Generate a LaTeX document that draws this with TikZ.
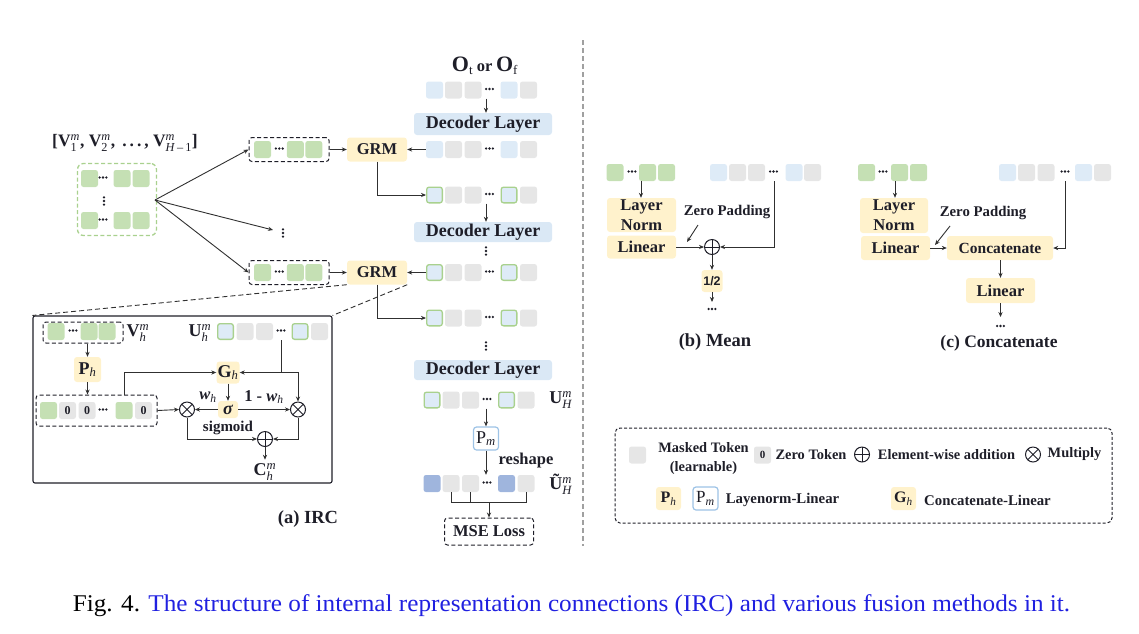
\documentclass[tikz,border=0pt]{standalone}
\usepackage{fontspec}
\usepackage{amsmath}
\setmainfont{Liberation Serif}
\newfontfamily\sansf{Liberation Sans}
\usetikzlibrary{arrows.meta}
\definecolor{tgreen}{HTML}{C5E0B4}
\definecolor{tgreenb}{HTML}{A9D18E}
\definecolor{tblue}{HTML}{DEEBF7}
\definecolor{tgray}{HTML}{E6E6E6}
\definecolor{tdark}{HTML}{9FB5DD}
\definecolor{decb}{HTML}{DAE8F5}
\definecolor{yel}{HTML}{FFF2CC}
\definecolor{pmb}{HTML}{9DC3E6}
\definecolor{txt}{HTML}{1E1E28}
\definecolor{lnc}{HTML}{303030}
\definecolor{capblue}{HTML}{2020E0}
\definecolor{sepc}{HTML}{A0A0A0}
\newcommand{\fsz}[1]{\fontsize{#1}{#1}\selectfont}
\newcommand{\sps}[2]{\ensuremath{^{\textit{\mdseries #1}}_{\text{\mdseries #2}}}}
\newcommand{\hdt}[2]{\fill[txt] ({#1-3.4},{#2}) circle (1.3pt) ({#1},{#2}) circle (1.3pt) ({#1+3.4},{#2}) circle (1.3pt);}
\newcommand{\vdt}[2]{\fill[txt] ({#1},{#2-3.6}) circle (1.3pt) ({#1},{#2}) circle (1.3pt) ({#1},{#2+3.6}) circle (1.3pt);}
\newcommand{\crow}[4]{%
  \node[#3] (#4a) at ({434.5+#2},#1) {};
  \node[xt] (#4b) at ({453.5+#2},#1) {};
  \node[xt] (#4c) at ({473+#2},#1) {};
  \hdt{489.5+#2}{#1-1}
  \node[#3] (#4d) at ({509+#2},#1) {};
  \node[xt] (#4e) at ({528.5+#2},#1) {};}
\begin{document}
\begin{tikzpicture}[x=1pt,y=-1pt,
  every node/.append style={text=txt},
  ln/.style={draw=lnc, line width=0.9pt},
  arr/.style={ln, -{Stealth[length=5pt,width=4.2pt]}},
  tok/.style={rectangle, rounded corners=2.5pt, minimum width=17pt, minimum height=17pt, inner sep=0pt},
  gt/.style={tok, fill=tgreen},
  bt/.style={tok, fill=tblue},
  xt/.style={tok, fill=tgray},
  dt/.style={tok, fill=tdark},
  bgt/.style={tok, fill=tblue, draw=tgreenb, line width=1.3pt, minimum width=15.7pt, minimum height=15.7pt},
  ybox/.style={fill=yel, rounded corners=3pt, inner sep=0pt},
  dbox/.style={draw=txt, dash pattern=on 4pt off 2.5pt, line width=1pt, rounded corners=3pt, inner sep=0pt},
  decbox/.style={fill=decb, rounded corners=3pt, inner sep=0pt, minimum width=138pt, font=\fsz{18}\bfseries},
  bft/.style={font=\fsz{16.5}\bfseries},
  oplus/.style={circle, draw=txt, line width=1pt, minimum size=15pt, inner sep=0pt,
    path picture={\draw[txt, line width=1pt] (path picture bounding box.north) -- (path picture bounding box.south) (path picture bounding box.west) -- (path picture bounding box.east);}},
  otimes/.style={circle, draw=txt, line width=1pt, minimum size=15pt, inner sep=0pt,
    path picture={\draw[txt, line width=1pt] (path picture bounding box.north west) -- (path picture bounding box.south east) (path picture bounding box.south west) -- (path picture bounding box.north east);}},
  pmbox/.style={fill=white, draw=pmb, line width=1.2pt, rounded corners=3pt, inner sep=0pt, minimum width=25pt, minimum height=23pt, font=\fsz{18}}
]
\useasboundingbox (0,0) rectangle (1139,633);

% ---------- top-left: list of V ----------
\node[font=\fsz{17.5}\bfseries] (vlist) at (125,143) {[V\sps{m}{1}, V\sps{m}{2}, \,.\,.\,.\,, V\sps{m}{\textit{H}\,\textendash\,1}]};
\node[draw=tgreenb, dash pattern=on 4pt off 2.5pt, line width=1.3pt, rounded corners=6pt, minimum width=79pt, minimum height=72pt, inner sep=0pt] (vbox) at (117,199.5) {};
\node[gt] (va1) at (89.5,178.5) {}; \hdt{103}{177.5}
\node[gt] (va2) at (122,178.5) {}; \node[gt] (va3) at (141,178.5) {};
\vdt{104}{201}
\node[gt] (vb1) at (89.5,220.5) {}; \hdt{103}{219.5}
\node[gt] (vb2) at (122,220.5) {}; \node[gt] (vb3) at (141,220.5) {};

% dashed V boxes and GRMs
\node[dbox, minimum width=80pt, minimum height=24pt] (k1) at (289,149.5) {};
\node[gt] (k1a) at (262.5,149.5) {}; \hdt{279.3}{148.5}
\node[gt] (k1b) at (295.3,149.5) {}; \node[gt] (k1c) at (313.8,149.5) {};
\node[dbox, minimum width=80pt, minimum height=24pt] (k2) at (289,272.5) {};
\node[gt] (k2a) at (262.5,272.5) {}; \hdt{279.3}{271.5}
\node[gt] (k2b) at (295.3,272.5) {}; \node[gt] (k2c) at (313.8,272.5) {};
\node[ybox, minimum width=60pt, minimum height=24pt, font=\fsz{16.5}\bfseries] (grm1) at (377,149.5) {GRM};
\node[ybox, minimum width=60pt, minimum height=24pt, font=\fsz{16.5}\bfseries] (grm2) at (377,272.5) {GRM};

\coordinate (fan) at (155,200);
\coordinate (fdots) at (273,230);
\draw[arr] (fan) -- (k1.west);
\draw[arr] (fan) -- (fdots);
\draw[arr] (fan) -- (k2.west);
\vdt{283}{233}
\draw[arr] (k1.east) -- (grm1.west);
\draw[arr] (k2.east) -- (grm2.west);

% ---------- center column ----------
\node[font=\fsz{22}\bfseries] (ootf) at (485,66) {O$_{\text{\mdseries\fsz{13}t}}$\,{\fsz{16.5}or}\,O$_{\text{\mdseries\fsz{13}f}}$};
\crow{90}{0}{bt}{r1}
\node[decbox, minimum height=22pt] (dec1) at (483,124) {Decoder Layer};
\crow{149.5}{0}{bt}{r2}
\crow{195}{0}{bgt}{r3}
\node[decbox, minimum height=20pt] (dec2) at (483,232) {Decoder Layer};
\vdt{486}{251}
\crow{272.5}{0}{bgt}{r4}
\crow{318}{0}{bgt}{r5}
\vdt{486}{346}
\node[decbox, minimum height=20pt] (dec3) at (483,370) {Decoder Layer};
\crow{400}{(-2.5)}{bgt}{r6}
\node[pmbox] (pm) at (486,438.5) {P$_{\textit{m}}$};
\node[font=\fsz{16.5}\bfseries] (resh) at (526,461) {reshape};
\crow{483.5}{(-2.5)}{dt}{r7}
\node[font=\fsz{18}\bfseries] (uhm) at (561,400) {U\sps{m}{\textit{H}}};
\node[font=\fsz{18}\bfseries] (uthm) at (561,484) {Ũ\sps{m}{\textit{H}}};
\node[dbox, minimum width=89pt, minimum height=27pt, font=\fsz{16.5}\bfseries] (mse) at (489,531.5) {MSE Loss};

\coordinate (c486) at (486,0);
\draw[arr] (r1c.south -| c486) -- (dec1.north -| c486);
\draw[arr] (r3c.south -| c486) -- (dec2.north -| c486);
\draw[arr] (r6c.south -| c486) -- (pm.north);
\draw[arr] (pm.south) -- (r7c.north -| pm.south);
\draw[arr] (r2a.west) -- (grm1.east);
\draw[arr] (grm1.south) |- (r3a.west);
\draw[arr] (r4a.west) -- (grm2.east);
\draw[arr] (grm2.south) |- (r5a.west);
\coordinate (bry) at (0,502);
\draw[ln] (r7b.south) -- (r7b.south |- bry) -- (r7e.south |- bry) -- (r7e.south);
\draw[ln] (r7c.south) -- (r7c.south |- bry);
\draw[arr] (mse.north |- bry) -- (mse.north);

% separator
\draw[sepc, line width=1.2pt, dash pattern=on 5pt off 3pt] (583,40) -- (583,546);

% ---------- IRC detail ----------
\node[draw=txt, line width=1.1pt, rounded corners=2pt, minimum width=299pt, minimum height=167pt, inner sep=0pt] (irc) at (182.5,399.5) {};
\draw[ln, dash pattern=on 5pt off 3pt] (grm2.south west) -- (irc.north west);
\draw[ln, dash pattern=on 5pt off 3pt] (grm2.south east) -- (irc.north east);

\node[dbox, minimum width=80pt, minimum height=21pt] (vh) at (83,332.5) {};
\node[gt] (vh1) at (56,331.5) {}; \hdt{73}{330.5}
\node[gt] (vh2) at (89,331.5) {}; \node[gt] (vh3) at (107,331.5) {};
\node[font=\fsz{18}\bfseries] (vhl) at (138,333) {V\sps{m}{\textit{h}}};
\node[font=\fsz{18}\bfseries] (uhl) at (200,333) {U\sps{m}{\textit{h}}};
\node[bgt] (uh1) at (225.5,331.5) {};
\node[xt] (uh2) at (245,331.5) {};
\node[xt] (uh3) at (264.5,331.5) {};
\hdt{281}{330.5}
\node[bgt] (uh4) at (300,331.5) {};
\node[xt] (uh5) at (319.5,331.5) {};

\node[ybox, minimum width=27pt, minimum height=25pt, font=\fsz{18}\bfseries] (ph) at (87.5,369.5) {P$_{\text{\mdseries\itshape h}}$};
\node[dbox, minimum width=121pt, minimum height=31pt] (zb) at (96.5,410.5) {};
\node[gt] (z1) at (48.5,410.5) {};
\node[xt, font=\fsz{12}\bfseries] (z2) at (67.5,410.5) {0};
\node[xt, font=\fsz{12}\bfseries] (z3) at (87,410.5) {0};
\hdt{103}{409.5}
\node[gt] (z4) at (124,410.5) {};
\node[xt, font=\fsz{12}\bfseries] (z5) at (143.5,410.5) {0};

\node[ybox, minimum width=23pt, minimum height=22pt, font=\fsz{18}\bfseries] (gh) at (228,372.5) {G$_{\text{\mdseries\itshape h}}$};
\node[ybox, minimum width=20pt, minimum height=17pt, font=\fsz{18}\bfseries\itshape] (sig) at (228,409.5) {σ};
\node[otimes] (mull) at (187,409.5) {};
\node[otimes] (mulr) at (298,409.5) {};
\node[oplus] (addc) at (265,439) {};
\node[font=\fsz{18}\bfseries] (chm) at (265,472) {C\sps{m}{\textit{h}}};
\node[font=\fsz{16.5}\bfseries] (whl) at (208,397) {\itshape w$_{\text{\mdseries h}}$};
\node[font=\fsz{16.5}\bfseries] (owl) at (264,397) {1 - \textit{w}$_{\text{\mdseries\itshape h}}$};
\node[font=\fsz{15}\bfseries] (sgl) at (228,428) {sigmoid};
\node[font=\fsz{18.5}\bfseries] (irct) at (308,519) {(a) IRC};

\coordinate (udt) at (281,340);
\coordinate (zx) at (124,0);
\draw[arr] (vh.south -| ph.north) -- (ph.north);
\draw[arr] (ph.south) -- (zb.north -| ph.south);
\draw[arr] (zb.north -| zx) |- (gh.west);
\draw[arr] (udt) |- (gh.east);
\draw[arr] (udt |- gh.east) -| (mulr.north);
\draw[arr] (gh.south) -- (sig.north);
\draw[arr] (sig.west) -- (mull.east);
\draw[arr] (sig.east) -- (mulr.west);
\draw[arr] (zb.east) -- (mull.west);
\draw[arr] (mull.south) |- (addc.west);
\draw[arr] (mulr.south) |- (addc.east);
\draw[arr] (addc.south) -- (chm.north);

% ---------- (b) Mean ----------
\node[gt] (ma1) at (615,172.5) {}; \hdt{632}{171.5}
\node[gt] (ma2) at (647.5,172.5) {}; \node[gt] (ma3) at (666.5,172.5) {};
\node[bt] (mb1) at (718.5,172.5) {}; \node[xt] (mb2) at (737.5,172.5) {};
\node[xt] (mb3) at (756.5,172.5) {}; \hdt{773.5}{171.5}
\node[bt] (mb4) at (794,172.5) {}; \node[xt] (mb5) at (812.5,172.5) {};
\node[ybox, minimum width=69pt, minimum height=34pt, align=center, font=\fontsize{16.5}{20}\selectfont\bfseries] (mln) at (641.5,215) {Layer\\Norm};
\node[ybox, minimum width=69pt, minimum height=23pt, bft] (mlin) at (641.5,247) {Linear};
\node[oplus] (madd) at (712,247) {};
\node[ybox, minimum width=21pt, minimum height=22pt, font=\sansf\fsz{12.5}\bfseries] (mhalf) at (712,281) {1/2};
\node[font=\fsz{14.8}\bfseries] (mzp) at (727,212) {Zero Padding};
\node[font=\fsz{18.5}\bfseries] (mcap) at (715,342) {(b) Mean};
\coordinate (mx) at (641,0);
\coordinate (mdt) at (774,181);
\coordinate (mza) at (698,225);
\coordinate (mzb) at (687,242);
\coordinate (mend) at (712,302);
\draw[arr] (ma2.south -| mx) -- (mln.north -| mx);
\draw[arr] (mlin.east) -- (madd.west);
\draw[arr] (mdt) |- (madd.east);
\draw[arr] (mza) -- (mzb);
\draw[arr] (madd.south) -- (mhalf.north);
\draw[arr] (mhalf.south) -- (mend);
\hdt{712}{309}

% ---------- (c) Concatenate ----------
\node[gt] (ca1) at (866.5,172.5) {}; \hdt{883}{171.5}
\node[gt] (ca2) at (899.5,172.5) {}; \node[gt] (ca3) at (918.5,172.5) {};
\node[bt] (cb1) at (1007.5,172.5) {}; \node[xt] (cb2) at (1026.5,172.5) {};
\node[xt] (cb3) at (1046,172.5) {}; \hdt{1065}{171.5}
\node[bt] (cb4) at (1083.5,172.5) {}; \node[xt] (cb5) at (1102.5,172.5) {};
\node[ybox, minimum width=68pt, minimum height=35pt, align=center, font=\fontsize{16.5}{20}\selectfont\bfseries] (cln) at (894,215.5) {Layer\\Norm};
\node[ybox, minimum width=69pt, minimum height=24pt, bft] (clin) at (895.5,248) {Linear};
\node[ybox, minimum width=106pt, minimum height=24pt, font=\fsz{15.5}\bfseries] (ccat) at (1000,248) {Concatenate};
\node[ybox, minimum width=69pt, minimum height=25pt, bft] (clin2) at (1000.5,290.5) {Linear};
\node[font=\fsz{14.8}\bfseries] (czp) at (983,213) {Zero Padding};
\node[font=\fsz{17.5}\bfseries] (ccap) at (999,343) {(c) Concatenate};
\coordinate (cx) at (895,0);
\coordinate (cdt) at (1065,181);
\coordinate (cza) at (950,226);
\coordinate (czb) at (935,245);
\coordinate (cend) at (1000.5,317);
\draw[arr] (ca2.south -| cx) -- (cln.north -| cx);
\draw[arr] (clin.east) -- (ccat.west);
\draw[arr] (cdt) |- (ccat.east);
\draw[arr] (cza) -- (czb);
\draw[arr] (ccat.south -| clin2.north) -- (clin2.north);
\draw[arr] (clin2.south) -- (cend);
\hdt{1000.5}{326}

% ---------- legend ----------
\node[draw=txt, dash pattern=on 3pt off 2pt, line width=1pt, rounded corners=5pt, minimum width=497pt, minimum height=95pt, inner sep=0pt] (leg) at (863.5,475.5) {};
\node[xt] (lgm) at (637.5,455) {};
\node[font=\fontsize{14.4}{19}\selectfont\bfseries, align=center] (lgmt) at (703.5,458.5) {Masked Token\\(learnable)};
\node[xt, font=\fsz{11}\bfseries] (lgz) at (762.5,455) {0};
\node[font=\fsz{14.4}\bfseries] (lgzt) at (811,454.5) {Zero Token};
\node[oplus] (lgadd) at (862,454.5) {};
\node[font=\fsz{14.4}\bfseries] (lgaddt) at (946.5,454.5) {Element-wise addition};
\node[otimes] (lgmul) at (1033,454.5) {};
\node[font=\fsz{14.4}\bfseries] (lgmult) at (1074.5,454.5) {Multiply};
\node[ybox, minimum width=25pt, minimum height=23pt, font=\fsz{16}\bfseries] (lgph) at (668.5,498.5) {P$_{\text{\mdseries\itshape h}}$};
\node[pmbox, font=\fsz{17}] (lgpm) at (705.5,498.5) {P$_{\textit{m}}$};
\node[font=\fsz{14.8}\bfseries] (lgpt) at (782.5,500) {Layenorm-Linear};
\node[ybox, minimum width=25pt, minimum height=23pt, font=\fsz{16}\bfseries] (lggh) at (903.5,498.5) {G$_{\text{\mdseries\itshape h}}$};
\node[font=\fsz{14.8}\bfseries] (lggt) at (987.5,500) {Concatenate-Linear};

% ---------- caption ----------
\node[font=\fsz{24}, text=black] (cap) at (571.5,606) {\scalebox{1.05}[1]{Fig. 4. \textcolor{capblue}{The structure of internal representation connections (IRC) and various fusion methods in it.}}};
\end{tikzpicture}
\end{document}
